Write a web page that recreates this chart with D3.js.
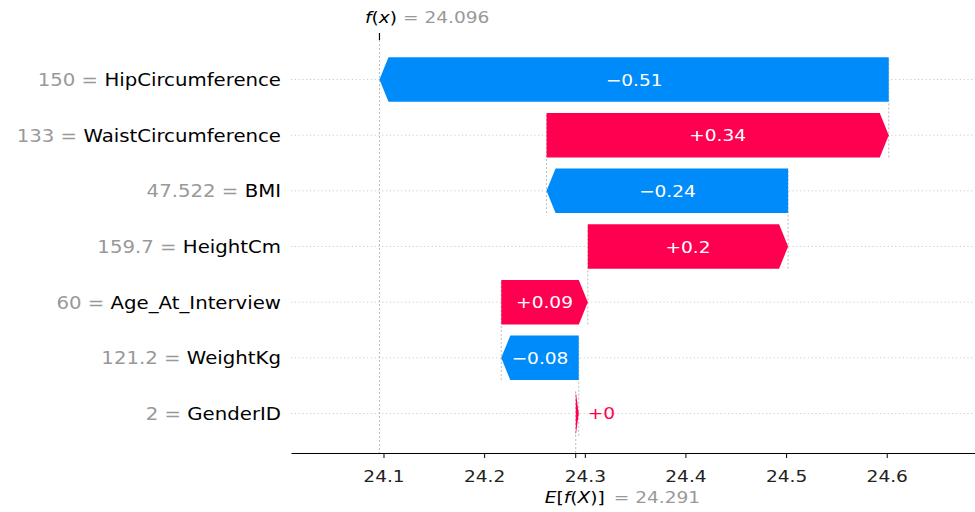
<!DOCTYPE html>
<html>
<head>
<meta charset="utf-8">
<script src="https://cdn.jsdelivr.net/npm/d3@7/dist/d3.min.js"></script>
<style>
  body { margin: 0; background: #fff; }
  svg text { font-family: "DejaVu Sans", sans-serif; }
</style>
</head>
<body>
<svg id="chart" width="975" height="512"></svg>
<script>
// SHAP waterfall: one row per feature, stacked from the expected value up to f(x)
const features = ["HipCircumference", "WaistCircumference", "BMI", "HeightCm", "Age_At_Interview", "WeightKg", "GenderID"];
const featureValues = ["150", "133", "47.522", "159.7", "60", "121.2", "2"];
const shapValues = [-0.506, 0.340, -0.240, 0.199, 0.086, -0.077, 0.003];
const baseValue = 24.291;
const xTicks = [24.1, 24.2, 24.3, 24.4, 24.5, 24.6];
const xDomain = [24.0081, 24.6877];

const RED = "#ff0051", BLUE = "#008bfb";
const SX = 1.16;            // horizontal glyph stretch
const HEAD = 9;             // arrow head length in px

const svg = d3.select("#chart");
const n = features.length;

// cumulative positions, built from the bottom row upwards
const starts = new Array(n), ends = new Array(n);
let acc = baseValue;
for (let i = n - 1; i >= 0; i--) {
  starts[i] = acc;
  acc += shapValues[i];
  ends[i] = acc;
}
const fx = acc;

const x = d3.scaleLinear().domain(xDomain).range([291, 975]);
const y = d3.scaleLinear().domain([-0.71, n - 1 + 0.71]).range([40, 453]);
const axisY = y(n - 1 + 0.71);
const topY = y(-0.71);

// number formatting in the SHAP style: trim trailing zeros, true minus sign
function fmt(v, digits) {
  let s = v.toFixed(digits);
  if (s.indexOf(".") >= 0) s = s.replace(/0+$/, "").replace(/\.$/, "");
  if (/^-?0$/.test(s)) s = "0";
  return s.replace("-", "\u2212");
}
function fmtSigned(v) {
  const s = fmt(v, 2);
  return (v >= 0 || s === "0") ? "+" + s : s;
}

// stretched text helper
function addText(g, px, py, size, anchor) {
  return g.append("text")
    .attr("transform", `translate(${px},${py}) scale(${SX},1)`)
    .attr("font-size", size)
    .attr("text-anchor", anchor);
}

const back = svg.append("g");
const marks = svg.append("g");
const labels = svg.append("g");

// horizontal dotted row guides
back.selectAll("line.row").data(features).join("line")
  .attr("class", "row")
  .attr("x1", x.range()[0]).attr("x2", x.range()[1])
  .attr("y1", (d, i) => y(i)).attr("y2", (d, i) => y(i))
  .attr("stroke", "#cccccc").attr("stroke-width", 1)
  .attr("stroke-dasharray", "1.2,2.6");

// vertical dashed connectors between consecutive bars
const dash = "2,2";
for (let i = n - 1; i >= 1; i--) {
  back.append("line")
    .attr("x1", x(ends[i])).attr("x2", x(ends[i]))
    .attr("y1", y(i + 0.4)).attr("y2", y(i - 1 - 0.4))
    .attr("stroke", "#bbbbbb").attr("stroke-width", 1).attr("stroke-dasharray", dash);
}
// expected value line and f(x) line
back.append("line")
  .attr("x1", x(baseValue)).attr("x2", x(baseValue))
  .attr("y1", axisY).attr("y2", y(n - 1 - 0.4))
  .attr("stroke", "#bbbbbb").attr("stroke-width", 1).attr("stroke-dasharray", dash);
back.append("line")
  .attr("x1", x(fx)).attr("x2", x(fx))
  .attr("y1", topY).attr("y2", axisY)
  .attr("stroke", "#bbbbbb").attr("stroke-width", 1).attr("stroke-dasharray", dash);

// arrows
const line = d3.line();
features.forEach((f, i) => {
  const xs = x(starts[i]), xe = x(ends[i]);
  const dir = xe >= xs ? 1 : -1;
  const len = Math.abs(xe - xs);
  const hl = Math.min(HEAD, len);
  const t = y(i - 0.4), b = y(i + 0.4), c = y(i);
  const pts = [[xs, t], [xe - dir * hl, t], [xe, c], [xe - dir * hl, b], [xs, b]];
  const col = shapValues[i] >= 0 ? RED : BLUE;
  marks.append("path").attr("d", line(pts) + "Z").attr("fill", col);

  const txt = addText(labels, (xs + xe) / 2, c + 6, 16, "middle")
    .attr("fill", "#fff").text(fmtSigned(shapValues[i]));
  const w = txt.node().getComputedTextLength() * SX;
  if (w + 8 > len) {
    txt.attr("transform", `translate(${Math.max(xs, xe) + 9},${c + 6}) scale(${SX},1)`)
      .attr("text-anchor", "start").attr("fill", col);
  }
});

// feature labels: "value = name"
features.forEach((f, i) => {
  const t = addText(labels, 281, y(i) + 6.5, 17, "end");
  t.append("tspan").attr("fill", "#999999").text(featureValues[i] + " = ");
  t.append("tspan").attr("fill", "#000000").text(f);
});

// bottom axis
const axis = d3.axisBottom(x).tickValues(xTicks).tickFormat(d3.format(".1f"))
  .tickSize(5).tickSizeOuter(0);
const ax = svg.append("g").attr("transform", `translate(0,${axisY})`).call(axis);
ax.select(".domain").attr("stroke", "#000").attr("stroke-width", 1.2);
ax.selectAll(".tick line").attr("stroke", "#000");
ax.selectAll(".tick text")
  .attr("y", 0).attr("dy", null)
  .attr("transform", `translate(0,29) scale(${SX},1)`)
  .attr("font-size", 16).attr("font-family", "DejaVu Sans")
  .attr("fill", "#222");
// tick at the expected value
ax.append("line").attr("x1", x(baseValue)).attr("x2", x(baseValue))
  .attr("y1", 0).attr("y2", 5).attr("stroke", "#000");

// E[f(X)] label
const eLab = addText(labels, x(baseValue) + 29, axisY + 50, 16, "end").attr("fill", "#000");
eLab.append("tspan").attr("font-style", "italic").text("E");
eLab.append("tspan").text("[");
eLab.append("tspan").attr("font-style", "italic").text("f");
eLab.append("tspan").text("(");
eLab.append("tspan").attr("font-style", "italic").text("X");
eLab.append("tspan").text(")]");
addText(labels, x(baseValue) + 38, axisY + 50, 16, "start")
  .attr("fill", "#999999").text("= " + baseValue.toFixed(3));

// f(x) tick and label at the top
svg.append("line").attr("x1", x(fx)).attr("x2", x(fx))
  .attr("y1", topY - 7).attr("y2", topY).attr("stroke", "#000").attr("stroke-width", 1.2);
const fLab = addText(labels, x(fx) - 14.5, topY - 17, 16, "start").attr("fill", "#000");
fLab.append("tspan").attr("font-style", "italic").text("f");
fLab.append("tspan").text("(");
fLab.append("tspan").attr("font-style", "italic").text("x");
fLab.append("tspan").text(")");
addText(labels, x(fx) + 23.5, topY - 17, 16, "start")
  .attr("fill", "#999999").text("= " + fx.toFixed(3));
</script>
</body>
</html>
